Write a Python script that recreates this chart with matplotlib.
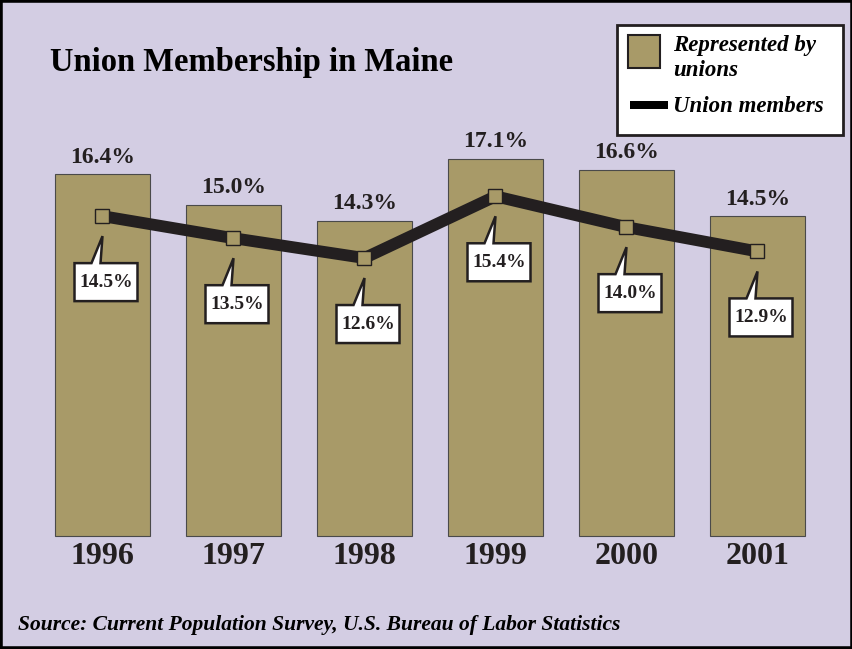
import matplotlib.pyplot as plt
from matplotlib.patches import Rectangle, Polygon

# data
years = ['1996', '1997', '1998', '1999', '2000', '2001']
represented = [16.4, 15.0, 14.3, 17.1, 16.6, 14.5]
members = [14.5, 13.5, 12.6, 15.4, 14.0, 12.9]

BG = '#d3cde3'
TAN = '#a89a68'
DARK = '#231f20'
W, H = 853, 649
PX_X = 131.0   # pixels per category step
PX_Y = 22.06   # pixels per percentage point

plt.rcParams['font.family'] = 'Liberation Serif'

fig = plt.figure(figsize=(W / 100, H / 100), dpi=100)
fig.patch.set_facecolor(BG)
ax = fig.add_axes([0, 0, 1, 1])
ax.set_facecolor(BG)
ax.set_xlim(-102.5 / PX_X, (W - 102.5) / PX_X)
ax.set_ylim(-(H - 536) / PX_Y, 536 / PX_Y)
ax.axis('off')

def frac(x, y):
    # pixel position (from top left) -> axes fraction
    return x / W, 1 - y / H

x = range(len(years))
ax.bar(x, represented, width=0.725, color=TAN, edgecolor='#4a4a4a', linewidth=0.8, zorder=2)
for i, v in enumerate(represented):
    ax.text(i, v + 0.3, f'{v:.1f}%', ha='center', va='bottom', fontsize=17,
            fontweight='bold', color=DARK, zorder=3)
for i, yr in enumerate(years):
    ax.text(i, -0.95, yr, ha='center', va='center', fontsize=23,
            fontweight='bold', color=DARK)

ax.plot(x, members, color=DARK, linewidth=8.5, solid_joinstyle='miter', zorder=4)
ax.plot(x, members, linestyle='none', marker='s', markersize=10.5, markerfacecolor=TAN,
        markeredgecolor=DARK, markeredgewidth=1.0, zorder=5)

# callout boxes under each line point
shape = [(0, 20), (-2, 47), (35, 47), (35, 85), (-28, 85), (-28, 47), (-11, 47)]
for i, v in enumerate(members):
    pts = [(i + dx / PX_X, v - dy / PX_Y) for dx, dy in shape]
    ax.add_patch(Polygon(pts, closed=True, facecolor='white', edgecolor=DARK,
                         linewidth=1.8, joinstyle='miter', zorder=6))
    ax.text(i + 3.5 / PX_X, v - 66 / PX_Y, f'{v:.1f}%', ha='center', va='center',
            fontsize=14, fontweight='bold', color=DARK, zorder=7)

# title
ax.text(*frac(50, 62), 'Union Membership in Maine', transform=ax.transAxes,
        ha='left', va='center', fontsize=23.5, fontweight='bold', color='black')

# legend
lx0, ly0 = frac(617, 135)
lx1, ly1 = frac(843, 25)
ax.add_patch(Rectangle((lx0, ly0), lx1 - lx0, ly1 - ly0, transform=ax.transAxes,
                       facecolor='white', edgecolor=DARK, linewidth=2, zorder=8))
px0, py0 = frac(628, 68)
px1, py1 = frac(660, 35)
ax.add_patch(Rectangle((px0, py0), px1 - px0, py1 - py0, transform=ax.transAxes,
                       facecolor=TAN, edgecolor=DARK, linewidth=1.5, zorder=9))
bx0, by0 = frac(630, 109)
bx1, by1 = frac(668, 101)
ax.add_patch(Rectangle((bx0, by0), bx1 - bx0, by1 - by0, transform=ax.transAxes,
                       facecolor='black', edgecolor='none', zorder=9))
ax.text(*frac(673, 46), 'Represented by', transform=ax.transAxes, ha='left', va='center',
        fontsize=16.5, fontweight='bold', fontstyle='italic', zorder=9)
ax.text(*frac(673, 70), 'unions', transform=ax.transAxes, ha='left', va='center',
        fontsize=16.5, fontweight='bold', fontstyle='italic', zorder=9)
ax.text(*frac(673, 106), 'Union members', transform=ax.transAxes, ha='left', va='center',
        fontsize=16.5, fontweight='bold', fontstyle='italic', zorder=9)

# source
ax.text(*frac(18, 625), 'Source: Current Population Survey, U.S. Bureau of Labor Statistics',
        transform=ax.transAxes, ha='left', va='center', fontsize=15.5,
        fontweight='bold', fontstyle='italic', color='black')

# outer border
ax.add_patch(Rectangle((0, 0), 1, 1, transform=ax.transAxes, facecolor='none',
                       edgecolor='black', linewidth=4, zorder=10))

fig.savefig('out.png', dpi=100, facecolor=BG)
